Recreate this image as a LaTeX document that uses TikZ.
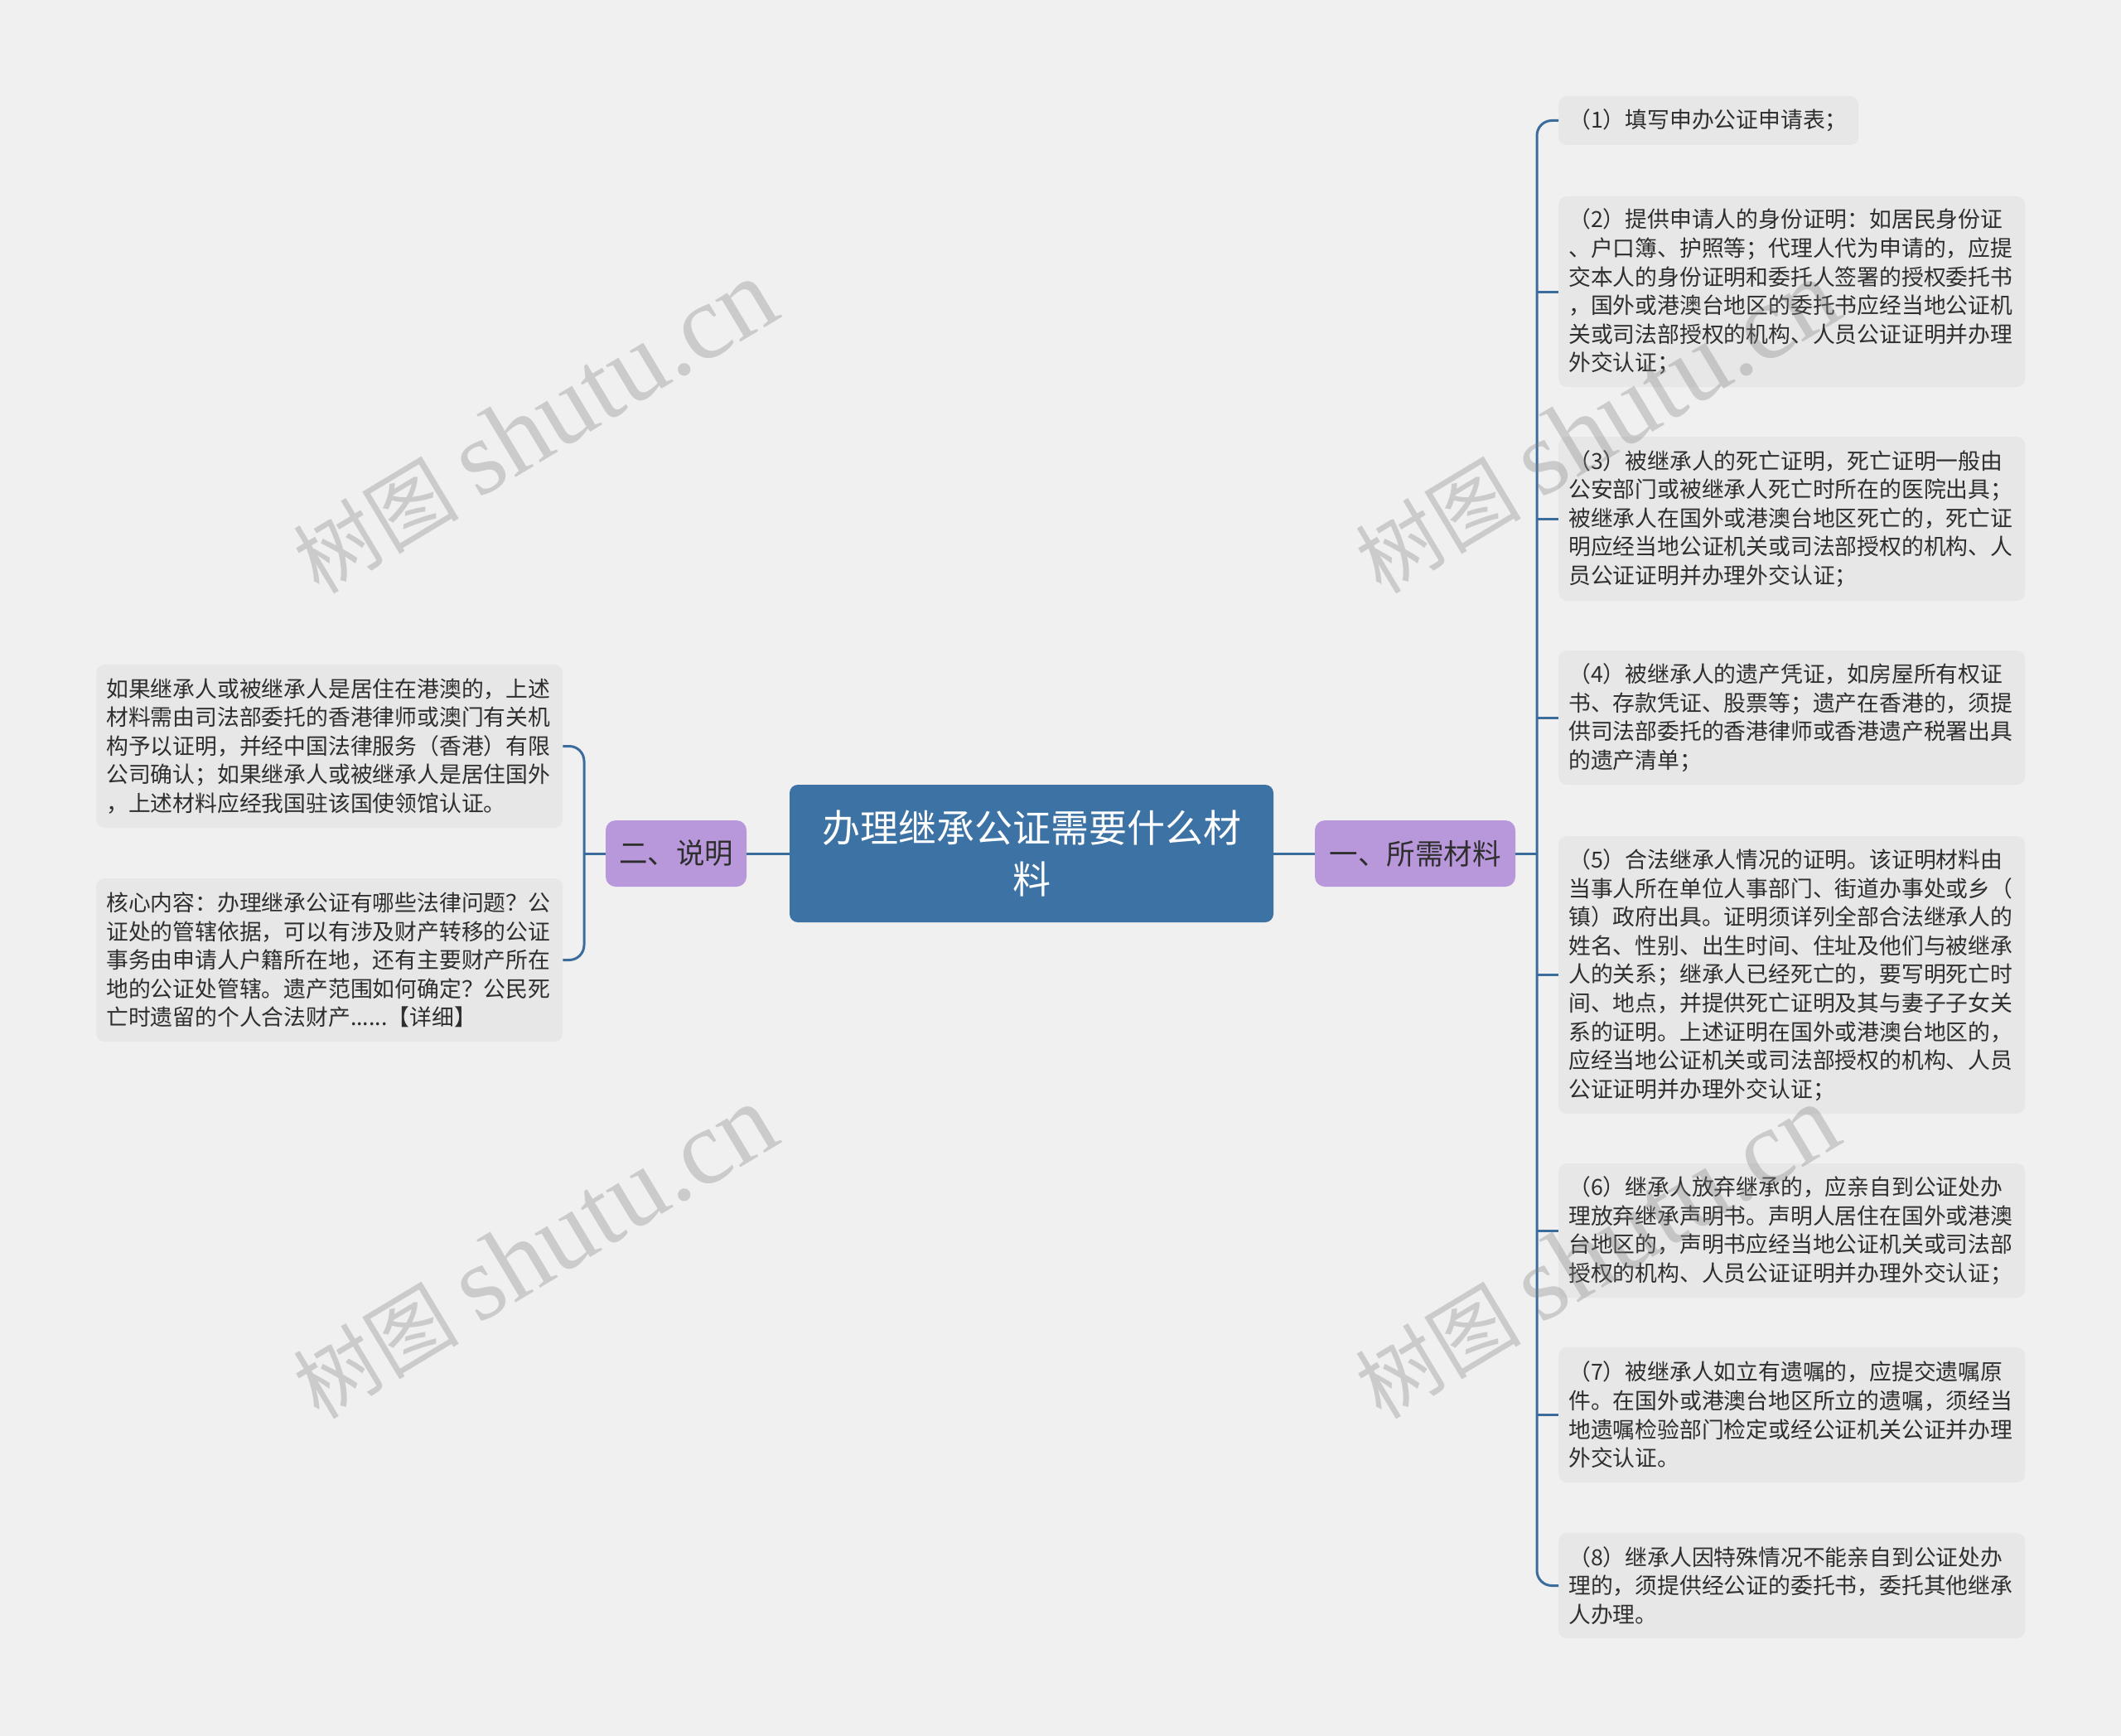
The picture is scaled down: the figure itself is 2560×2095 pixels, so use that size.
\documentclass[tikz,border=0pt]{standalone}
\usepackage{fontspec}
\setmainfont{Noto Sans CJK SC}
\newfontfamily\wmlatin{Liberation Serif}
\definecolor{bgc}{HTML}{F0F0F0}
\definecolor{leafc}{HTML}{E7E7E7}
\definecolor{connc}{HTML}{3A6C9C}
\definecolor{centralc}{HTML}{3D72A4}
\definecolor{branchc}{HTML}{B898DA}
\definecolor{txtc}{HTML}{2E2E2E}
\definecolor{wmc}{HTML}{808080}
\newcommand{\wmtext}{{\fontsize{100pt}{110pt}\selectfont 树图}\hspace{24pt}{\wmlatin\fontsize{128pt}{130pt}\selectfont shutu.cn}}
\begin{document}
\begin{tikzpicture}[x=1pt,y=-1pt,
  conn/.style={draw=connc, line width=3pt},
  leaf/.style={fill=leafc, rounded corners=10pt, anchor=west, align=left,
    text width=539pt, inner xsep=12pt, inner ysep=0pt, text=txtc,
    font=\fontsize{26.8pt}{34.6pt}\selectfont},
  central/.style={fill=centralc, rounded corners=10pt, align=center, text=white,
    minimum width=584pt, minimum height=166pt, inner sep=0pt,
    font=\fontsize{46pt}{62pt}\selectfont},
  branch/.style={fill=branchc, rounded corners=12pt, text=txtc, minimum height=80pt,
    inner sep=0pt, font=\fontsize{34.5pt}{40pt}\selectfont},
  wm/.style={text=wmc, opacity=0.33, rotate=31, inner sep=0pt}
]
\fill[bgc] (0,0) rectangle (2560,2095);
\useasboundingbox (0,0) rectangle (2560,2095);

% central and branches
\node[central] (C) at (1245,1030) {办理继承公证需要什么材\\料};
\node[branch, minimum width=242pt] (B1) at (1708,1030) {一、所需材料};
\node[branch, minimum width=170pt] (B2) at (816,1030) {二、说明};

% right leaves
\node[leaf, text width=338pt, minimum height=59pt] (R1) at (1881,145.5) {（1）填写申办公证申请表；};
\node[leaf, minimum height=230pt] (R2) at (1881,352) {（2）提供申请人的身份证明：如居民身份证\\、户口簿、护照等；代理人代为申请的，应提\\交本人的身份证明和委托人签署的授权委托书\\，国外或港澳台地区的委托书应经当地公证机\\关或司法部授权的机构、人员公证证明并办理\\外交认证；};
\node[leaf, minimum height=198pt] (R3) at (1881,626) {（3）被继承人的死亡证明，死亡证明一般由\\公安部门或被继承人死亡时所在的医院出具；\\被继承人在国外或港澳台地区死亡的，死亡证\\明应经当地公证机关或司法部授权的机构、人\\员公证证明并办理外交认证；};
\node[leaf, minimum height=162pt] (R4) at (1881,866) {（4）被继承人的遗产凭证，如房屋所有权证\\书、存款凭证、股票等；遗产在香港的，须提\\供司法部委托的香港律师或香港遗产税署出具\\的遗产清单；};
\node[leaf, minimum height=335pt] (R5) at (1881,1176.5) {（5）合法继承人情况的证明。该证明材料由\\当事人所在单位人事部门、街道办事处或乡（\\镇）政府出具。证明须详列全部合法继承人的\\姓名、性别、出生时间、住址及他们与被继承\\人的关系；继承人已经死亡的，要写明死亡时\\间、地点，并提供死亡证明及其与妻子子女关\\系的证明。上述证明在国外或港澳台地区的，\\应经当地公证机关或司法部授权的机构、人员\\公证证明并办理外交认证；};
\node[leaf, minimum height=162pt] (R6) at (1881,1485) {（6）继承人放弃继承的，应亲自到公证处办\\理放弃继承声明书。声明人居住在国外或港澳\\台地区的，声明书应经当地公证机关或司法部\\授权的机构、人员公证证明并办理外交认证；};
\node[leaf, minimum height=163pt] (R7) at (1881,1707.5) {（7）被继承人如立有遗嘱的，应提交遗嘱原\\件。在国外或港澳台地区所立的遗嘱，须经当\\地遗嘱检验部门检定或经公证机关公证并办理\\外交认证。};
\node[leaf, minimum height=127pt] (R8) at (1881,1913.5) {（8）继承人因特殊情况不能亲自到公证处办\\理的，须提供经公证的委托书，委托其他继承\\人办理。};

% left leaves
\node[leaf, minimum height=197pt] (L1) at (116,900.5) {如果继承人或被继承人是居住在港澳的，上述\\材料需由司法部委托的香港律师或澳门有关机\\构予以证明，并经中国法律服务（香港）有限\\公司确认；如果继承人或被继承人是居住国外\\，上述材料应经我国驻该国使领馆认证。};
\node[leaf, minimum height=197pt] (L2) at (116,1158.5) {核心内容：办理继承公证有哪些法律问题？公\\证处的管辖依据，可以有涉及财产转移的公证\\事务由申请人户籍所在地，还有主要财产所在\\地的公证处管辖。遗产范围如何确定？公民死\\亡时遗留的个人合法财产......【详细】};

% connectors
\coordinate (rb) at (1855,1030);
\coordinate (lb) at (705,1030);
\draw[conn] (C.east) -- (B1.west);
\draw[conn] (C.west) -- (B2.east);
\draw[conn] (B1.east) -- (rb);
\draw[conn] (B2.west) -- (lb);
\draw[conn, rounded corners=18pt] (R1.west) -| (rb) |- (R8.west);
\foreach \n in {R2,R3,R4,R5,R6,R7} {
  \draw[conn] (rb |- \n.west) -- (\n.west);
}
\draw[conn, rounded corners=18pt] (L1.east) -| (lb) |- (L2.east);

% watermarks
\node[wm] (W1) at (645,515) {\wmtext};
\node[wm] (W2) at (1927,515) {\wmtext};
\node[wm] (W3) at (645,1511) {\wmtext};
\node[wm] (W4) at (1927,1511) {\wmtext};
\end{tikzpicture}
\end{document}
